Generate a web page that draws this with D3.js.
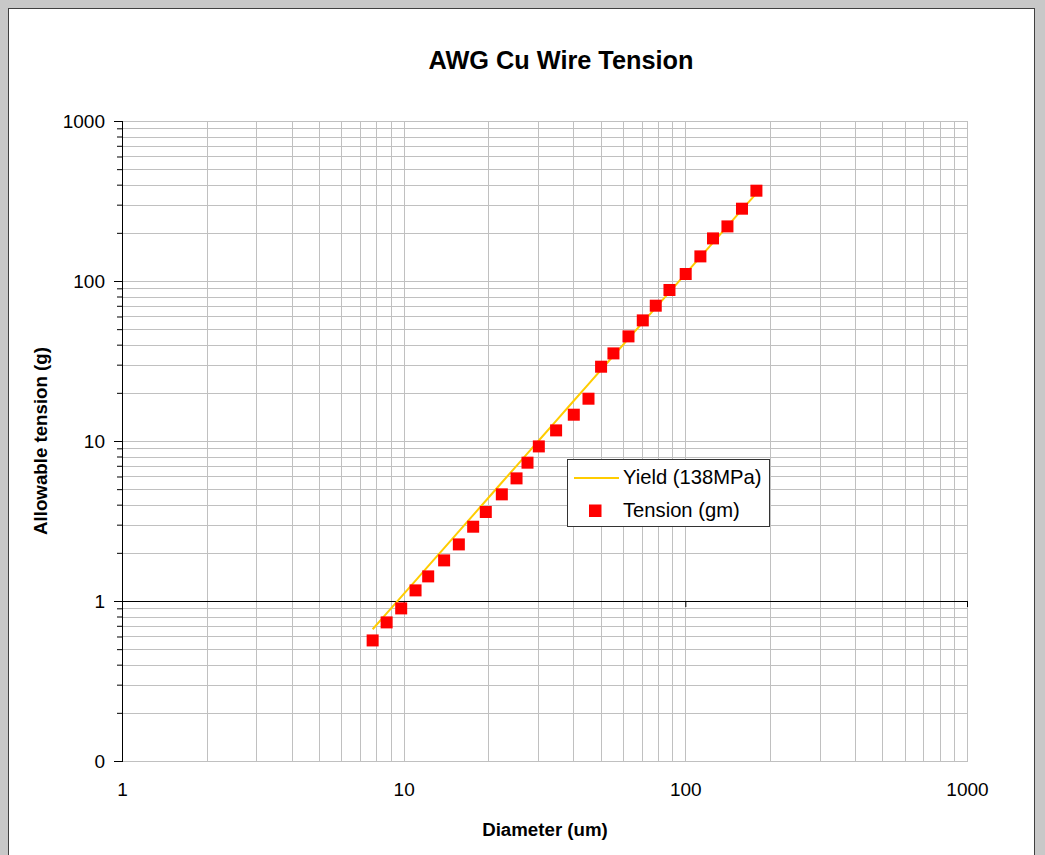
<!DOCTYPE html>
<html><head><meta charset="utf-8">
<script src="https://cdn.jsdelivr.net/npm/d3@7"></script>
<style>
html,body{margin:0;padding:0;background:#c8c8c8;overflow:hidden;}
svg{display:block;font-family:"Liberation Sans",Arial,sans-serif;}
</style></head><body>
<svg id="chart" width="1045" height="855"></svg>
<script>
// ---- data ----
const diameters = [7.76, 8.70, 9.80, 11.02, 12.22, 13.92, 15.70, 17.65, 19.57, 22.31, 25.16, 27.52, 30.19, 34.77,
  40.18, 45.31, 50.22, 55.56, 62.83, 70.62, 78.52, 87.83, 100.3, 113.1, 125.4, 141.1, 158.9, 178.8];
const tension = [0.567, 0.735, 0.899, 1.165, 1.425, 1.794, 2.258, 2.913, 3.60, 4.64, 5.84, 7.32, 9.25, 11.65,
  14.60, 18.38, 29.13, 35.28, 45.06, 56.73, 70.09, 87.86, 110.6, 142.5, 184.6, 219.4, 283.1, 366.8];
const yieldTension = [0.666, 0.837, 1.061, 1.342, 1.650, 2.141, 2.724, 3.443, 4.233, 5.501, 6.996, 8.371, 10.07, 13.36,
  17.84, 22.69, 27.87, 34.12, 43.63, 55.12, 68.14, 85.26, 111.2, 141.4, 173.8, 220.0, 279.1, 353.3];
const xTickValues = [1, 10, 100, 1000];
const xTickLabels = ["1", "10", "100", "1000"];
const yTickValues = [0.1, 1, 10, 100, 1000];
const yTickLabels = ["0", "1", "10", "100", "1000"];
const seriesNames = ["Yield (138MPa)", "Tension (gm)"];
const chartTitle = "AWG Cu Wire Tension";
const xTitle = "Diameter (um)";
const yTitle = "Allowable tension (g)";

// ---- layout ----
const svg = d3.select("#chart");
svg.append("rect").attr("x", 0).attr("y", 0).attr("width", 1045).attr("height", 855).attr("fill", "#c8c8c8");
svg.append("rect").attr("x", 8.5).attr("y", 8.5).attr("width", 1026).attr("height", 870)
  .attr("fill", "#ffffff").attr("stroke", "#404040");

const L = 122, R = 967, T = 121, B = 761;
const x = d3.scaleLog().domain([1, 1000]).range([L, R]);
const y = d3.scaleLog().domain([0.1, 1000]).range([B, T]);
const px = v => Math.round(v) + 0.5;

// gridlines (major + minor)
const grid = svg.append("g").attr("stroke", "#c0c0c0").attr("stroke-width", 1).attr("shape-rendering", "crispEdges");
grid.selectAll("line.gx").data(x.ticks()).join("line")
  .attr("x1", d => px(x(d))).attr("x2", d => px(x(d))).attr("y1", T).attr("y2", B + 1);
grid.selectAll("line.gy").data(y.ticks()).join("line")
  .attr("y1", d => px(y(d))).attr("y2", d => px(y(d))).attr("x1", L).attr("x2", R + 1);

// title
svg.append("text").attr("x", 561).attr("y", 69).attr("text-anchor", "middle")
  .attr("font-size", 25.3).attr("font-weight", "bold").attr("fill", "#000").text(chartTitle);

// y axis
const yMinor = y.ticks().filter(v => !yTickValues.some(t => Math.abs(t - v) < 1e-9));
const yAxisMinor = svg.append("g").attr("transform", `translate(${L},0)`)
  .call(d3.axisLeft(y).tickValues(yMinor).tickSize(5).tickFormat(""));
yAxisMinor.select(".domain").remove();
const yAxis = svg.append("g").attr("transform", `translate(${L},0)`)
  .call(d3.axisLeft(y).tickValues(yTickValues).tickFormat((d, i) => yTickLabels[i]).tickSize(8).tickPadding(9));
yAxis.select(".domain").attr("d", `M0.5,${T}V${B + 1}`);
svg.selectAll("g.tick line").attr("stroke", "#000");
yAxis.selectAll("text").attr("font-size", 19).attr("font-family", "Liberation Sans, Arial, sans-serif").attr("fill", "#000");

// x axis line at y = 1 with major ticks
const xAxisLine = svg.append("g").attr("transform", `translate(0,${Math.round(y(1))})`)
  .call(d3.axisBottom(x).tickValues(xTickValues).tickSize(6).tickFormat(""));
xAxisLine.select(".domain").attr("d", `M${L},0.5H${R + 1}`).attr("stroke", "#000");
xAxisLine.selectAll("line").attr("stroke", "#000");

// x labels at bottom
const xLabels = svg.append("g").attr("transform", `translate(0,${B})`)
  .call(d3.axisBottom(x).tickValues(xTickValues).tickFormat((d, i) => xTickLabels[i]).tickSize(0).tickPadding(22));
xLabels.select(".domain").remove();
xLabels.selectAll("text").attr("font-size", 19).attr("font-family", "Liberation Sans, Arial, sans-serif").attr("fill", "#000");

// axis titles
svg.append("text").attr("x", 545).attr("y", 836).attr("text-anchor", "middle")
  .attr("font-size", 18.7).attr("font-weight", "bold").text(xTitle);
svg.append("text").attr("transform", "translate(47,441) rotate(-90)").attr("text-anchor", "middle")
  .attr("font-size", 18.7).attr("font-weight", "bold").text(yTitle);

// series: yield line
const lineData = diameters.map((d, i) => [d, yieldTension[i]]);
svg.append("path").datum(lineData)
  .attr("d", d3.line().x(d => x(d[0])).y(d => y(d[1])))
  .attr("fill", "none").attr("stroke", "#ffcc00").attr("stroke-width", 2);

// series: tension markers
const ms = 12;
svg.append("g").selectAll("rect").data(diameters.map((d, i) => [d, tension[i]])).join("rect")
  .attr("x", d => x(d[0]) - ms / 2).attr("y", d => y(d[1]) - ms / 2)
  .attr("width", ms).attr("height", ms).attr("fill", "#ff0000");

// legend
const lg = svg.append("g");
lg.append("rect").attr("x", 567.5).attr("y", 459.5).attr("width", 202).attr("height", 67)
  .attr("fill", "#fff").attr("stroke", "#333");
lg.append("line").attr("x1", 574).attr("x2", 619).attr("y1", 478).attr("y2", 478)
  .attr("stroke", "#ffcc00").attr("stroke-width", 2);
lg.append("rect").attr("x", 589).attr("y", 504.5).attr("width", ms + 0.5).attr("height", ms + 0.5).attr("fill", "#ff0000");
lg.append("text").attr("x", 623).attr("y", 484).attr("font-size", 20.2).text(seriesNames[0]);
lg.append("text").attr("x", 623).attr("y", 517).attr("font-size", 20.2).text(seriesNames[1]);
</script>
</body></html>
